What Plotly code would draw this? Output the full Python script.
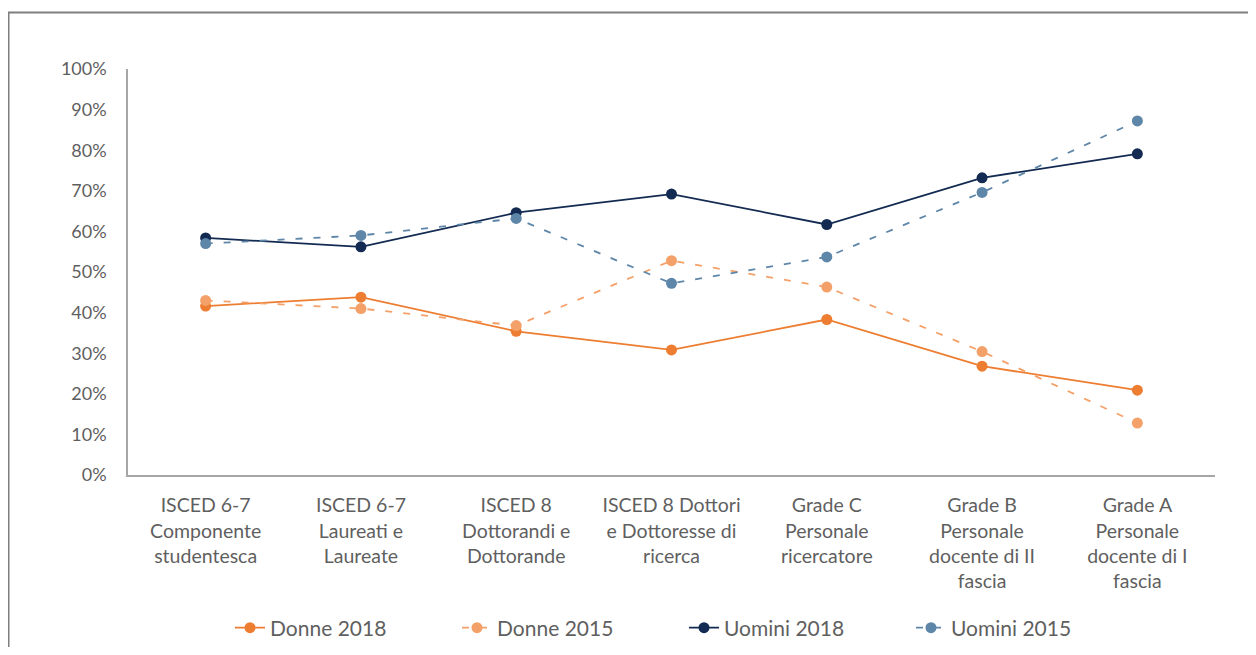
import plotly.graph_objects as go

categories = [
    "ISCED 6-7<br>Componente<br>studentesca",
    "ISCED 6-7<br>Laureati e<br>Laureate",
    "ISCED 8<br>Dottorandi e<br>Dottorande",
    "ISCED 8 Dottori<br>e Dottoresse di<br>ricerca",
    "Grade C<br>Personale<br>ricercatore",
    "Grade B<br>Personale<br>docente di II<br>fascia",
    "Grade A<br>Personale<br>docente di I<br>fascia",
]
donne_2018 = [41.6, 43.8, 35.4, 30.8, 38.3, 26.8, 20.9]
donne_2015 = [43.0, 41.0, 36.8, 52.8, 46.3, 30.4, 12.8]
uomini_2018 = [58.4, 56.2, 64.6, 69.2, 61.7, 73.2, 79.1]
uomini_2015 = [57.0, 59.0, 63.2, 47.2, 53.7, 69.6, 87.2]
y_ticks = [0, 10, 20, 30, 40, 50, 60, 70, 80, 90, 100]
y_tick_text = [f"{v}%" for v in y_ticks]

FONT = "Lato"
GREY = "#5f5f5f"
fig = go.Figure()
series = [
    ("Donne 2018", donne_2018, "#ED7D31", "solid"),
    ("Donne 2015", donne_2015, "#F4A069", "7px,11px"),
    ("Uomini 2018", uomini_2018, "#132B52", "solid"),
    ("Uomini 2015", uomini_2015, "#5E86A8", "7px,11px"),
]
for name, vals, col, dash in series:
    fig.add_trace(go.Scatter(
        x=categories, y=vals, name=name, mode="lines+markers",
        line=dict(color=col, width=1.8, dash=dash),
        marker=dict(color=col, size=11),
    ))

# page is offset by 8px (body margin); figure coords = page coords - 8
W, H = 1240, 639
L, T, R, B = 120, 61, 1207, 467
pw, ph = R - L, B - T

fig.update_layout(
    width=W, height=H,
    margin=dict(l=L, r=W - R, t=T, b=H - B, autoexpand=False),
    paper_bgcolor="white", plot_bgcolor="white",
    font=dict(family=FONT, color=GREY, size=19),
    showlegend=True,
    legend=dict(orientation="h", x=(222 - L) / pw, xanchor="left", y=(B - 620) / ph,
                yanchor="middle", entrywidth=182, entrywidthmode="pixels",
                font=dict(size=21, color=GREY), traceorder="normal"),
    xaxis=dict(range=[-0.5, 6.5], showgrid=False, showline=True, linecolor="#A6A6A6",
               linewidth=1.5, ticks="", tickfont=dict(size=19.5, color=GREY), zeroline=False,
               ticklabelstandoff=12),
    yaxis=dict(range=[0, 100], tickvals=y_ticks, ticktext=y_tick_text, showgrid=False,
               showline=True, linecolor="#A6A6A6", linewidth=1.5, ticks="",
               tickfont=dict(size=18, color=GREY), zeroline=False, ticklabelstandoff=16),
    shapes=[
        dict(type="line", xref="paper", yref="paper", x0=-L / pw, x1=1.2,
             y0=(B - 4.5) / ph, y1=(B - 4.5) / ph, line=dict(color="#7F7F7F", width=2)),
        dict(type="line", xref="paper", yref="paper", x0=(0.5 - L) / pw, x1=(0.5 - L) / pw,
             y0=(B - 4.5) / ph, y1=-0.6, line=dict(color="#7F7F7F", width=2)),
    ],
)
fig.write_html("out.html")
